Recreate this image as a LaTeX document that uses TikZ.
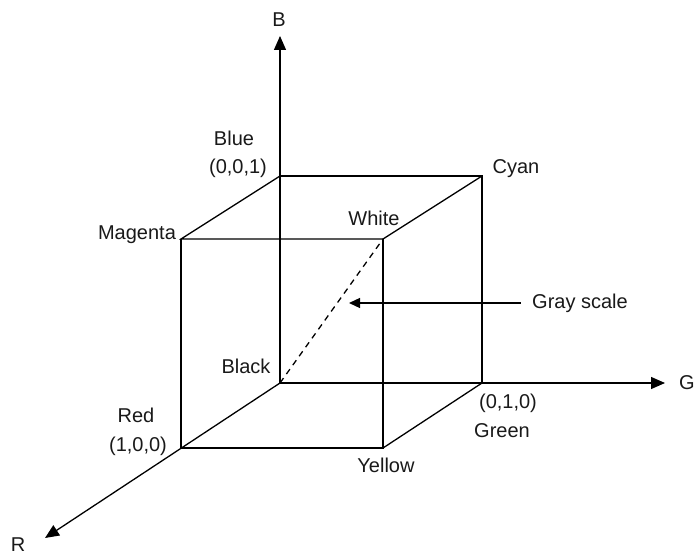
\documentclass[tikz,border=0pt]{standalone}
\usepackage{fontspec}
\setmainfont{Liberation Sans}
\usetikzlibrary{arrows.meta}
\begin{document}
\begin{tikzpicture}[x=1pt,y=-1pt,line width=1.3pt,
  lbl/.style={font=\fontsize{20}{22}\selectfont,inner sep=0pt,text=black!90},
  axisarrow/.style={-{Triangle[length=14pt,width=12pt]}},
  grayarrow/.style={-{Triangle[length=11pt,width=10pt]}},
  dashedge/.style={dash pattern=on 6pt off 5pt}]
\useasboundingbox (0,0) rectangle (696,559);
% cube corners
\coordinate (K) at (280,383);
\coordinate (Bl) at (280,176);
\coordinate (C) at (482,176);
\coordinate (Gr) at (482,383);
\coordinate (M) at (181,239);
\coordinate (W) at (383,239);
\coordinate (Rd) at (181,448);
\coordinate (Y) at (383,448);
% axis tips
\coordinate (Btip) at (280,36);
\coordinate (Gtip) at (665,383);
\coordinate (Rtip) at (45,538);
\coordinate (GStip) at (349,303);
% axes
\draw[axisarrow] (K) -- (Btip);
\draw[axisarrow] (K) -- (Gtip);
\draw[axisarrow] (K) -- (Rtip);
% cube edges
\draw (Bl) -- (C) -- (Gr);
\draw (Bl) -- (M) -- (W) -- (C);
\draw (M) -- (Rd) -- (Y) -- (W);
\draw (Y) -- (Gr);
\draw[dashedge] (K) -- (W);
% labels
\node[lbl] (lB) at (279,20) {B};
\node[lbl] (lG) at (687,383) {G};
\node[lbl] (lR) at (18,545) {R};
\node[lbl] (lBlue) at (234,138) {Blue};
\node[lbl] (lBlueC) at (238,168) {(0,0,1)};
\node[lbl] (lCyan) at (516,169) {Cyan};
\node[lbl] (lWhite) at (374,218) {White};
\node[lbl] (lMag) at (137,235) {Magenta};
\node[lbl] (lGray) at (580,303) {Gray scale};
\node[lbl] (lBlack) at (246,366) {Black};
\node[lbl] (lRed) at (136,415) {Red};
\node[lbl] (lRedC) at (138,446) {(1,0,0)};
\node[lbl] (lGreenC) at (508,403) {(0,1,0)};
\node[lbl] (lGreen) at (502,431) {Green};
\node[lbl] (lYellow) at (386,465) {Yellow};
\draw[grayarrow] ([xshift=-11pt]lGray.west) -- (GStip);
\end{tikzpicture}
\end{document}
